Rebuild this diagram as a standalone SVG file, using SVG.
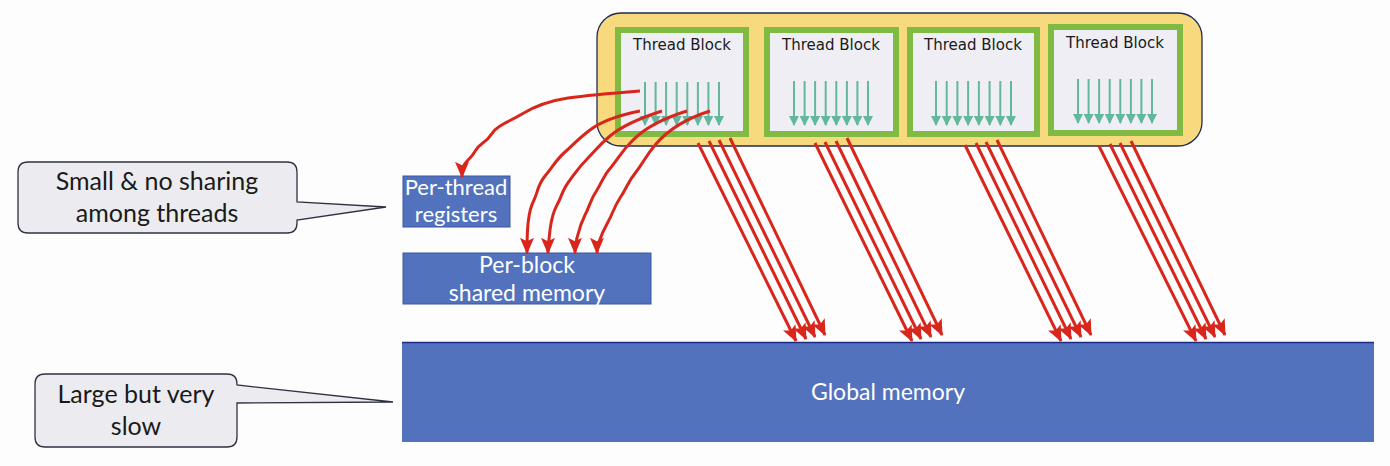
<svg xmlns="http://www.w3.org/2000/svg" width="1390" height="466" viewBox="0 0 1390 466">
<style>
.blk{fill:#EFEEF4;stroke:#80BA42;stroke-width:6}
.ttl{font-family:"DejaVu Sans",sans-serif;font-size:15px;fill:#1a1a1a;text-anchor:middle}
.mem{fill:#5272BE}
.mt{font-family:Lato,"Liberation Sans",sans-serif;font-size:22px;fill:#ffffff;text-anchor:middle}
.mt2{font-family:Lato,"Liberation Sans",sans-serif;font-size:23px;fill:#ffffff;text-anchor:middle}
.ct{font-family:Lato,"Liberation Sans",sans-serif;font-size:25px;fill:#1a1a1a;text-anchor:middle}
.call{fill:#ECECF0;stroke:#2E3142;stroke-width:1.3}
.th{stroke:#62B89A;stroke-width:2;fill:none;marker-end:url(#teal)}
.red{stroke:#D9261C;stroke-width:3;fill:none;marker-end:url(#rh)}
</style>
<defs>
<marker id="teal" viewBox="0 0 10 10" refX="9" refY="5" markerUnits="userSpaceOnUse" markerWidth="10" markerHeight="10" orient="auto">
<path d="M0,0 L10,5 L0,10 z" fill="#62B89A"/>
</marker>
<marker id="rh" viewBox="0 0 14 12" refX="13" refY="6" markerUnits="userSpaceOnUse" markerWidth="17" markerHeight="14" orient="auto">
<path d="M0,0 L14,6 L0,12 L3,6 z" fill="#D9261C"/>
</marker>
</defs>
<rect width="1390" height="466" fill="#FDFDFE"/>

<g id="container">
<rect x="597" y="13" width="605" height="133" rx="24" fill="#F7DA7D" stroke="#1F2A5A" stroke-width="1.3"/>
</g>

<g id="block1">
<rect class="blk" x="618" y="30" width="128" height="104"/>
<text class="ttl" x="682" y="50">Thread Block</text>
<g>
<line class="th" x1="645" y1="82" x2="645" y2="125"/><line class="th" x1="655.6" y1="82" x2="655.6" y2="125"/><line class="th" x1="666.1" y1="82" x2="666.1" y2="125"/><line class="th" x1="676.7" y1="82" x2="676.7" y2="125"/><line class="th" x1="687.3" y1="82" x2="687.3" y2="125"/><line class="th" x1="697.9" y1="82" x2="697.9" y2="125"/><line class="th" x1="708.4" y1="82" x2="708.4" y2="125"/><line class="th" x1="719" y1="82" x2="719" y2="125"/>
</g>
</g>

<g id="block2">
<rect class="blk" x="767" y="30" width="129" height="104"/>
<text class="ttl" x="831" y="50">Thread Block</text>
<g>
<line class="th" x1="794" y1="81" x2="794" y2="125"/><line class="th" x1="804.6" y1="81" x2="804.6" y2="125"/><line class="th" x1="815.1" y1="81" x2="815.1" y2="125"/><line class="th" x1="825.7" y1="81" x2="825.7" y2="125"/><line class="th" x1="836.3" y1="81" x2="836.3" y2="125"/><line class="th" x1="846.9" y1="81" x2="846.9" y2="125"/><line class="th" x1="857.4" y1="81" x2="857.4" y2="125"/><line class="th" x1="868" y1="81" x2="868" y2="125"/>
</g>
</g>

<g id="block3">
<rect class="blk" x="910" y="30" width="127" height="104"/>
<text class="ttl" x="973" y="50">Thread Block</text>
<g>
<line class="th" x1="936" y1="81" x2="936" y2="125"/><line class="th" x1="946.7" y1="81" x2="946.7" y2="125"/><line class="th" x1="957.4" y1="81" x2="957.4" y2="125"/><line class="th" x1="968.1" y1="81" x2="968.1" y2="125"/><line class="th" x1="978.9" y1="81" x2="978.9" y2="125"/><line class="th" x1="989.6" y1="81" x2="989.6" y2="125"/><line class="th" x1="1000.3" y1="81" x2="1000.3" y2="125"/><line class="th" x1="1011" y1="81" x2="1011" y2="125"/>
</g>
</g>

<g id="block4">
<rect class="blk" x="1051" y="27" width="129" height="106"/>
<text class="ttl" x="1115" y="48">Thread Block</text>
<g>
<line class="th" x1="1078" y1="79" x2="1078" y2="123"/><line class="th" x1="1088.6" y1="79" x2="1088.6" y2="123"/><line class="th" x1="1099.1" y1="79" x2="1099.1" y2="123"/><line class="th" x1="1109.7" y1="79" x2="1109.7" y2="123"/><line class="th" x1="1120.3" y1="79" x2="1120.3" y2="123"/><line class="th" x1="1130.9" y1="79" x2="1130.9" y2="123"/><line class="th" x1="1141.4" y1="79" x2="1141.4" y2="123"/><line class="th" x1="1152" y1="79" x2="1152" y2="123"/>
</g>
</g>

<g id="registers">
<rect class="mem" x="403" y="176" width="107" height="51" stroke="#3A56A0" stroke-width="1"/>
<text class="mt" x="456" y="195">Per-thread</text>
<text class="mt" x="456" y="222">registers</text>
</g>

<g id="shared">
<rect class="mem" x="403" y="253" width="248" height="51" stroke="#3A56A0" stroke-width="1"/>
<text class="mt2" x="527" y="273">Per-block</text>
<text class="mt2" x="527" y="301">shared memory</text>
</g>

<g id="global">
<rect class="mem" x="402" y="342" width="972" height="100"/>
<line x1="402" y1="342.5" x2="1374" y2="342.5" stroke="#1B2A8A" stroke-width="1.5"/>
<text class="mt2" x="888" y="400">Global memory</text>
</g>

<g id="callout1">
<path class="call" d="M28,162 H287 Q297,162 297,172 V202 L386,207 L297,220 V223 Q297,233 287,233 H28 Q18,233 18,223 V172 Q18,162 28,162 Z"/>
<text class="ct" x="157" y="190">Small &amp; no sharing</text>
<text class="ct" x="157" y="222">among threads</text>
</g>

<g id="callout2">
<path class="call" d="M45,374 H227 Q237,374 237,384 V385 L393,402 L237,403 V437 Q237,447 227,447 H45 Q35,447 35,437 V384 Q35,374 45,374 Z"/>
<text class="ct" x="136" y="403">Large but very</text>
<text class="ct" x="136" y="435">slow</text>
</g>

<g id="connectors">
<path class="red" d="M640,91 C615,93 590,95 568,98 C548,101 535,106 522,114 C512,120 506,122 500,126 C490,132 492,137 484,142 C474,149 476,152 470,158 C464,164 462,166 462,177"/>
<path class="red" d="M640,111 C620,115 603,120 590,130 C578,139 573,145 565,152 C555,161 552,168 545,176 C537,186 538,192 534,200 C529,210 529,216 528,224 C527,234 527,244 527,253"/>
<path class="red" d="M662,111 C640,118 622,126 610,136 C598,146 596,150 588,158 C578,168 576,172 570,180 C562,190 562,196 557,205 C552,214 551,222 550,230 C549,240 548,246 548,253"/>
<path class="red" d="M687,111 C664,118 645,128 633,140 C621,152 620,156 612,166 C603,176 603,180 597,190 C590,200 590,206 585,215 C580,225 579,230 577,238 C575,245 575,249 575,253"/>
<path class="red" d="M710,111 C688,118 668,130 656,144 C644,158 644,162 636,172 C627,183 627,188 620,198 C614,207 613,213 608,222 C603,231 601,236 599,242 C598,246 597,250 597,253"/>

<line class="red" x1="698" y1="143" x2="796" y2="341"/>
<line class="red" x1="709" y1="141" x2="806" y2="339"/>
<line class="red" x1="719" y1="140" x2="815" y2="337"/>
<line class="red" x1="730" y1="138" x2="825" y2="335"/>

<line class="red" x1="815" y1="143" x2="912" y2="341"/>
<line class="red" x1="825" y1="142" x2="921" y2="339"/>
<line class="red" x1="836" y1="141" x2="931" y2="337"/>
<line class="red" x1="847" y1="138" x2="942" y2="335"/>

<line class="red" x1="965" y1="145" x2="1061" y2="341"/>
<line class="red" x1="976" y1="143" x2="1071" y2="339"/>
<line class="red" x1="986" y1="142" x2="1081" y2="337"/>
<line class="red" x1="997" y1="140" x2="1091" y2="335"/>

<line class="red" x1="1099" y1="146" x2="1196" y2="341"/>
<line class="red" x1="1110" y1="144" x2="1206" y2="339"/>
<line class="red" x1="1120" y1="143" x2="1215" y2="337"/>
<line class="red" x1="1131" y1="141" x2="1225" y2="335"/>
</g>
</svg>
